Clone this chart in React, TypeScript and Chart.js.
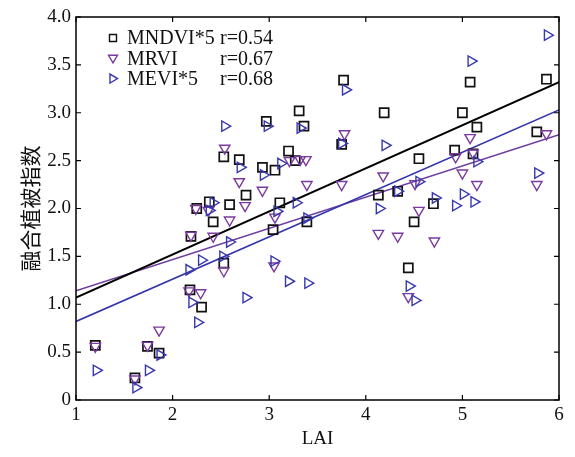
import React, { useEffect, useRef } from 'react';
import { Chart, registerables } from 'chart.js';
Chart.register(...registerables);

const mndviLai = [1.20, 1.61, 1.74, 1.86, 2.18, 2.19, 2.25, 2.30, 2.38, 2.42, 2.53, 2.53, 2.59, 2.69, 2.76, 2.93, 2.97, 3.04, 3.06, 3.11, 3.20, 3.27, 3.31, 3.36, 3.39, 3.75, 3.77, 4.13, 4.19, 4.33, 4.44, 4.50, 4.55, 4.70, 4.92, 5.00, 5.08, 5.11, 5.15, 5.77, 5.87];
const mndviVal = [0.57, 0.23, 0.56, 0.49, 1.15, 1.71, 2.00, 0.97, 2.07, 1.86, 1.43, 2.54, 2.04, 2.51, 2.14, 2.43, 2.91, 1.78, 2.40, 2.06, 2.60, 2.50, 3.02, 2.86, 1.86, 2.67, 3.34, 2.14, 3.00, 2.18, 1.38, 1.86, 2.52, 2.05, 2.61, 3.00, 3.32, 2.57, 2.85, 2.80, 3.35];

const mrviLai = [1.20, 1.61, 1.74, 1.86, 2.17, 2.19, 2.24, 2.29, 2.37, 2.42, 2.53, 2.54, 2.59, 2.69, 2.75, 2.93, 3.05, 3.06, 3.21, 3.32, 3.38, 3.39, 3.75, 3.78, 4.13, 4.18, 4.33, 4.44, 4.51, 4.55, 4.71, 4.93, 5.00, 5.08, 5.11, 5.15, 5.77, 5.87];
const mrviVal = [0.56, 0.22, 0.57, 0.73, 1.14, 1.72, 2.00, 1.12, 1.98, 1.71, 1.35, 2.63, 1.88, 2.28, 2.03, 2.19, 1.40, 1.91, 2.50, 2.51, 2.51, 2.25, 2.25, 2.78, 1.74, 2.34, 1.71, 1.08, 2.26, 1.98, 1.66, 2.54, 2.37, 2.74, 2.58, 2.25, 2.25, 2.78];

const meviLai = [1.21, 1.62, 1.75, 1.87, 2.17, 2.20, 2.26, 2.30, 2.38, 2.42, 2.52, 2.54, 2.59, 2.70, 2.76, 2.94, 2.98, 3.05, 3.08, 3.12, 3.20, 3.28, 3.32, 3.39, 3.40, 3.75, 3.79, 4.14, 4.20, 4.33, 4.45, 4.51, 4.55, 4.72, 4.93, 5.01, 5.09, 5.12, 5.15, 5.78, 5.88];
const meviVal = [0.31, 0.13, 0.31, 0.47, 1.36, 1.02, 0.81, 1.46, 1.98, 2.06, 1.50, 2.86, 1.65, 2.43, 1.07, 2.35, 2.86, 1.45, 1.97, 2.47, 1.24, 2.06, 2.84, 1.90, 1.22, 2.68, 3.24, 2.00, 2.66, 2.18, 1.19, 1.04, 2.28, 2.11, 2.03, 2.15, 3.54, 2.07, 2.49, 2.37, 3.81];

const seriesNames = ['MNDVI*5', 'MRVI', 'MEVI*5'];
const seriesR = ['r=0.54', 'r=0.67', 'r=0.68'];
const fitIntercept = [0.62, 0.814, 0.378];
const fitSlope = [0.45, 0.326, 0.442];
const fitRange = [1, 6];
const xTickValues = [1, 2, 3, 4, 5, 6];
const yTickValues = [0, 0.5, 1.0, 1.5, 2.0, 2.5, 3.0, 3.5, 4.0];

const COLORS = ['#111111', '#7a3a9e', '#3838ae'];
const LINE_COLORS = ['#000000', '#6e3c9e', '#3434ac'];
const STYLES = ['rect', 'triangle', 'triangle'];
const ROT = [0, 180, 90];

const toPts = (xs: number[], ys: number[]) => xs.map((x, i) => ({ x, y: ys[i] }));
const fitPts = (k: number) => fitRange.map((x) => ({ x, y: fitIntercept[k] + fitSlope[k] * x }));

const framePlugin = {
  id: 'frame',
  afterDatasetsDraw(chart: any) {
    const { ctx, chartArea: a, scales } = chart;
    ctx.save();
    ctx.strokeStyle = '#000';
    ctx.lineWidth = 1.5;
    ctx.strokeRect(a.left, a.top, a.right - a.left, a.bottom - a.top);
    ctx.lineWidth = 1.2;
    ctx.beginPath();
    const t = 5;
    xTickValues.forEach((v) => {
      const px = scales.x.getPixelForValue(v);
      ctx.moveTo(px, a.bottom); ctx.lineTo(px, a.bottom - t);
      ctx.moveTo(px, a.top); ctx.lineTo(px, a.top + t);
    });
    yTickValues.forEach((v) => {
      const py = scales.y.getPixelForValue(v);
      ctx.moveTo(a.left, py); ctx.lineTo(a.left + t, py);
      ctx.moveTo(a.right, py); ctx.lineTo(a.right - t, py);
    });
    ctx.stroke();

    // legend
    const lx = 113, ly0 = 38, dy = 20.3;
    ctx.font = '20px "Liberation Serif", "Times New Roman", serif';
    ctx.textBaseline = 'middle';
    ctx.textAlign = 'left';
    seriesNames.forEach((name, i) => {
      const y = ly0 + i * dy;
      ctx.strokeStyle = COLORS[i];
      ctx.lineWidth = 1.4;
      ctx.beginPath();
      if (i === 0) {
        ctx.rect(lx - 3.5, y - 3.5, 7, 7);
      } else if (i === 1) {
        ctx.moveTo(lx - 4.5, y - 3); ctx.lineTo(lx + 4.5, y - 3); ctx.lineTo(lx, y + 4.5); ctx.closePath();
      } else {
        ctx.moveTo(lx - 3, y - 4.5); ctx.lineTo(lx - 3, y + 4.5); ctx.lineTo(lx + 4.5, y); ctx.closePath();
      }
      ctx.stroke();
      ctx.fillStyle = '#111';
      ctx.fillText(name, 127, y + 1);
      ctx.fillText(seriesR[i], 220, y + 1);
    });
    ctx.restore();
  },
};

export default function App() {
  const ref = useRef<HTMLCanvasElement>(null);
  useEffect(() => {
    document.body.style.margin = '0';
    const scatter = [toPts(mndviLai, mndviVal), toPts(mrviLai, mrviVal), toPts(meviLai, meviVal)];
    const datasets: any[] = [];
    [2, 1, 0].forEach((k) => {
      datasets.push({
        type: 'scatter',
        label: seriesNames[k],
        data: scatter[k],
        pointStyle: STYLES[k],
        pointRotation: ROT[k],
        pointRadius: k === 0 ? 6.4 : 6,
        pointBorderWidth: k === 0 ? 1.7 : 1.4,
        pointBorderColor: COLORS[k],
        pointBackgroundColor: 'rgba(0,0,0,0)',
        showLine: false,
      });
    });
    [0, 2, 1].forEach((k) => {
      datasets.push({
        type: 'line',
        label: 'fit' + k,
        data: fitPts(k),
        borderColor: LINE_COLORS[k],
        borderWidth: k === 0 ? 2 : 1.6,
        pointRadius: 0,
        fill: false,
        tension: 0,
      });
    });
    const serif = '"Liberation Serif", "Times New Roman", serif';
    const chart = new Chart(ref.current!, {
      type: 'scatter',
      data: { datasets },
      options: {
        animation: false,
        responsive: false,
        layout: { padding: { top: 17, right: 16, left: 0, bottom: 0 } },
        plugins: { legend: { display: false }, tooltip: { enabled: false } },
        scales: {
          x: {
            type: 'linear',
            min: 1,
            max: 6,
            grid: { display: false, drawTicks: false },
            border: { display: false },
            afterBuildTicks: (s: any) => { s.ticks = xTickValues.map((v) => ({ value: v })); },
            afterFit: (s: any) => { s.height = 57; },
            ticks: { color: '#111', font: { family: serif, size: 19 }, padding: 4, maxRotation: 0 },
            title: { display: true, text: 'LAI', color: '#111', font: { family: serif, size: 19 }, padding: { top: 2, bottom: 7 } },
          },
          y: {
            type: 'linear',
            min: 0,
            max: 4,
            grid: { display: false, drawTicks: false },
            border: { display: false },
            afterBuildTicks: (s: any) => { s.ticks = yTickValues.map((v) => ({ value: v })); },
            afterFit: (s: any) => { s.width = 76; },
            ticks: {
              color: '#111',
              font: { family: serif, size: 19 },
              padding: 5,
              callback: (v: any) => (Number(v) === 0 ? '0' : Number(v).toFixed(1)),
            },
            title: { display: true, text: '融合植被指数', color: '#111', font: { family: '"Noto Sans CJK SC", sans-serif', size: 21 }, padding: { top: 17, bottom: 0 } },
          },
        },
      },
      plugins: [framePlugin],
    } as any);
    return () => chart.destroy();
  }, []);
  return (
    <div style={{ position: 'absolute', left: 0, top: 0, width: 575, height: 457, background: '#fff' }}>
      <canvas ref={ref} width={575} height={457} style={{ width: 575, height: 457 }} />
    </div>
  );
}
